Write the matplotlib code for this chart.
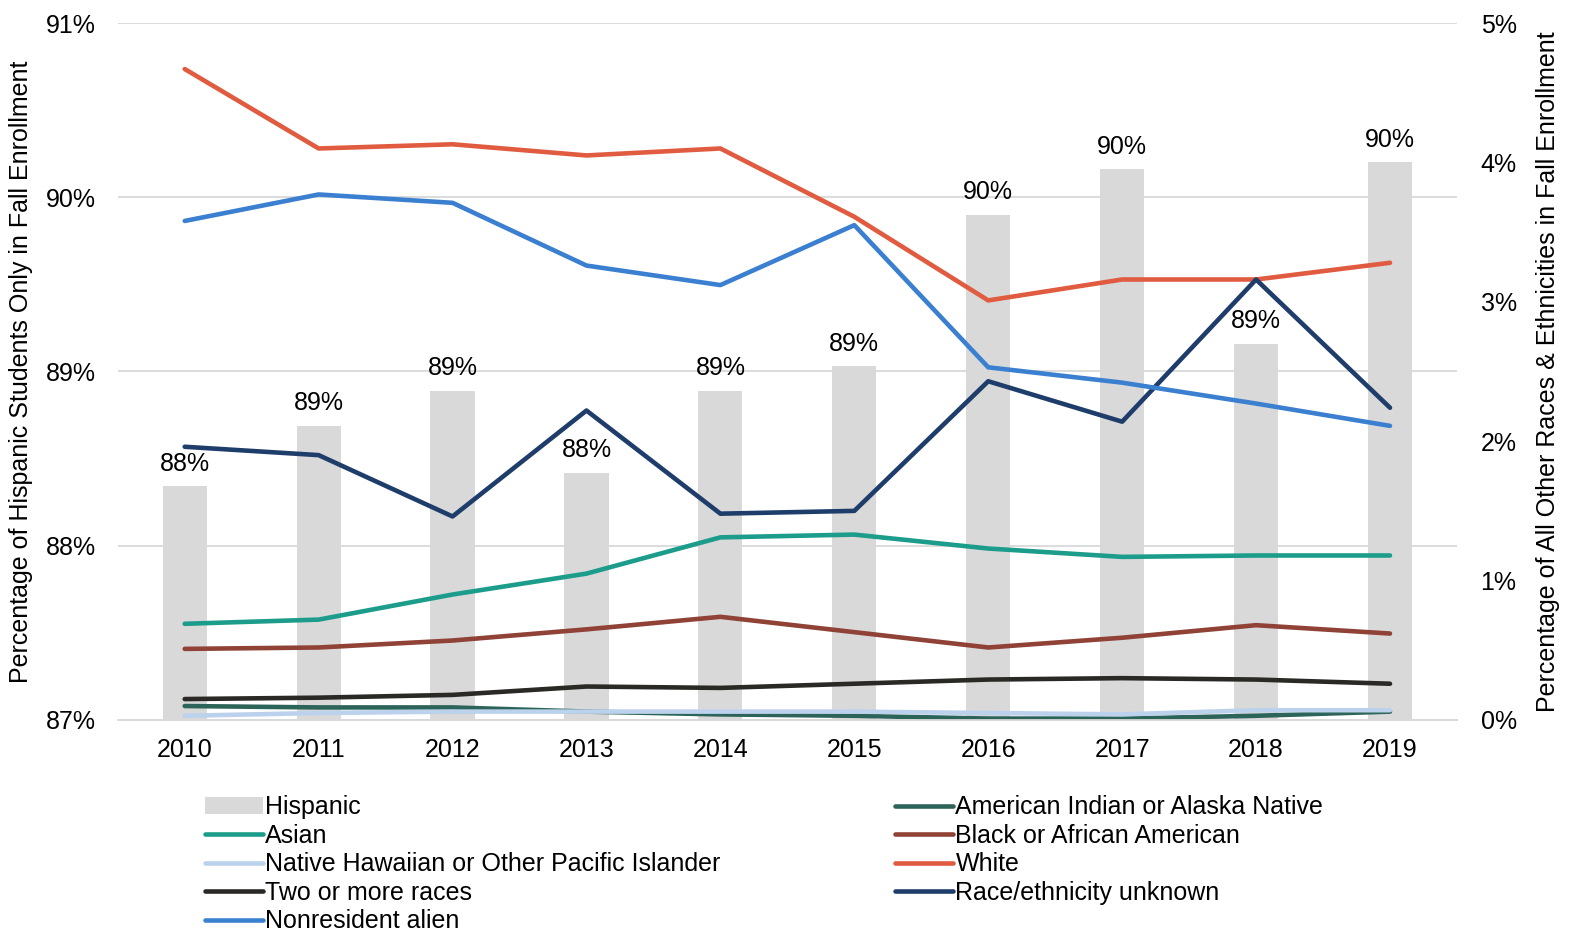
import numpy as np
import matplotlib.pyplot as plt
from matplotlib.ticker import FuncFormatter

plt.rcParams['font.family'] = ['Liberation Sans', 'DejaVu Sans']

years = ["2010", "2011", "2012", "2013", "2014", "2015", "2016", "2017", "2018", "2019"]

# Hispanic share (left axis, %)
hispanic = [88.34, 88.69, 88.89, 88.42, 88.89, 89.03, 89.90, 90.16, 89.16, 90.20]

# all other groups (right axis, %)
am_indian = [0.10, 0.09, 0.09, 0.06, 0.04, 0.03, 0.01, 0.01, 0.03, 0.06]
asian = [0.69, 0.72, 0.90, 1.05, 1.31, 1.33, 1.23, 1.17, 1.18, 1.18]
black = [0.51, 0.52, 0.57, 0.65, 0.74, 0.63, 0.52, 0.59, 0.68, 0.62]
hawaiian = [0.03, 0.05, 0.06, 0.06, 0.06, 0.06, 0.05, 0.04, 0.07, 0.07]
white = [4.67, 4.10, 4.13, 4.05, 4.10, 3.61, 3.01, 3.16, 3.16, 3.28]
two_more = [0.15, 0.16, 0.18, 0.24, 0.23, 0.26, 0.29, 0.30, 0.29, 0.26]
unknown = [1.96, 1.90, 1.46, 2.22, 1.48, 1.50, 2.43, 2.14, 3.16, 2.24]
nonresident = [3.58, 3.77, 3.71, 3.26, 3.12, 3.55, 2.53, 2.42, 2.27, 2.11]

series = [
    ("American Indian or Alaska Native", am_indian, "#2d6459"),
    ("Asian", asian, "#1c9c8b"),
    ("Black or African American", black, "#8f4235"),
    ("Native Hawaiian or Other Pacific Islander", hawaiian, "#bcd2ec"),
    ("White", white, "#e05b3f"),
    ("Two or more races", two_more, "#2b2925"),
    ("Race/ethnicity unknown", unknown, "#1f3d6b"),
    ("Nonresident alien", nonresident, "#3b80d0"),
]

x = np.arange(len(years))
fs = 18

fig = plt.figure(figsize=(15.7, 9.32), dpi=100)
ax = fig.add_axes([0.075, 0.2275, 0.853, 0.7478])
ax2 = ax.twinx()

bars = ax.bar(x, hispanic, width=0.33, color="#d9d9d9", label="Hispanic", zorder=2)
for xi, v in zip(x, hispanic):
    ax.text(xi, v + 0.06, f"{v:.0f}%", ha="center", va="bottom", fontsize=fs)

ax.set_ylim(87, 91)
ax.set_xlim(-0.5, 9.5)
ax.set_yticks([87, 88, 89, 90, 91])
ax.yaxis.set_major_formatter(FuncFormatter(lambda v, p: f"{v:.0f}%"))
ax.set_xticks(x)
ax.set_xticklabels(years)
ax.grid(axis="y", color="#d9d9d9", linewidth=1.3, zorder=0)
ax.set_axisbelow(True)

lines = {}
for name, vals, col in series:
    ln, = ax2.plot(x, vals, color=col, linewidth=3.3, solid_capstyle="round", label=name)
    lines[name] = ln

ax2.set_ylim(0, 5)
ax2.set_yticks([0, 1, 2, 3, 4, 5])
ax2.yaxis.set_major_formatter(FuncFormatter(lambda v, p: f"{v:.0f}%"))

for a in (ax, ax2):
    for s in ("top", "left", "right"):
        a.spines[s].set_visible(False)
    a.spines["bottom"].set_color("#d9d9d9")
    a.spines["bottom"].set_linewidth(1.3)
    a.tick_params(length=0, labelsize=fs)
ax.tick_params(axis="x", pad=13)
ax.tick_params(axis="y", pad=16)
ax2.tick_params(axis="y", pad=17)

ax.set_ylabel("Percentage of Hispanic Students Only in Fall Enrollment",
              fontsize=18, labelpad=9)
ax2.set_ylabel("Percentage of All Other Races & Ethnicities in Fall Enrollment",
               fontsize=18, labelpad=14)

order = ["Asian", "Native Hawaiian or Other Pacific Islander", "Two or more races",
         "Nonresident alien", "American Indian or Alaska Native",
         "Black or African American", "White", "Race/ethnicity unknown"]
handles = [bars] + [lines[n] for n in order]
labels = ["Hispanic"] + order
fig.legend(handles, labels, ncol=2, loc="upper left", bbox_to_anchor=(0.1306, 0.1466),
           frameon=False, fontsize=fs, handlelength=2.3, handletextpad=0.1,
           labelspacing=0.18, columnspacing=7.0, borderaxespad=0, borderpad=0)

fig.savefig("out.png", dpi=100)
